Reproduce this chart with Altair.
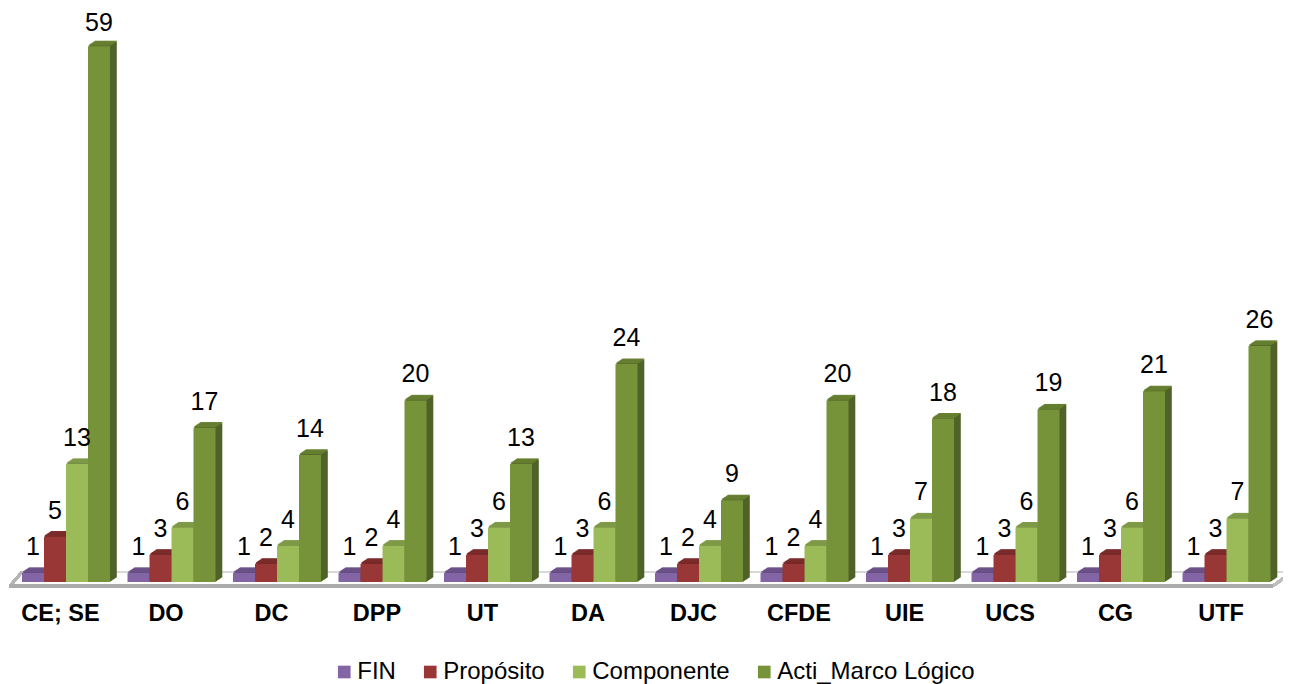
import altair as alt
import pandas as pd

categories = ["CE; SE", "DO", "DC", "DPP", "UT", "DA", "DJC", "CFDE", "UIE", "UCS", "CG", "UTF"]
series = ["FIN", "Propósito", "Componente", "Acti_Marco Lógico"]
fin = [1] * 12
proposito = [5, 3, 2, 2, 3, 3, 2, 2, 3, 3, 3, 3]
componente = [13, 6, 4, 4, 6, 6, 4, 4, 7, 6, 6, 7]
acti = [59, 17, 14, 20, 13, 24, 9, 20, 18, 19, 21, 26]
front_colors = ["#8364A5", "#983735", "#9BBB59", "#779339"]
side_colors = ["#5E4A79", "#6E2726", "#71893F", "#4F6228"]
top_colors = ["#6C5289", "#7B2C2B", "#7F9A48", "#667F31"]

W, H = 1266, 574
BAR = 22.0
STEP = 105.5
rows = []
for s_i, (name, vals) in enumerate(zip(series, [fin, proposito, componente, acti])):
    for g_i, (cat, v) in enumerate(zip(categories, vals)):
        x0 = g_i * STEP / BAR + 8.75 / BAR + s_i
        rows.append({"cat": cat, "series": name, "value": v, "side": side_colors[s_i],
                     "top": top_colors[s_i], "cap": v + 0.12, "zero": 0,
                     "label_y": v - 0.33 if v > 50 else v,
                     "x0": x0, "x1": x0 + 1, "xc": x0 + 0.5})
df = pd.DataFrame(rows)
cats_df = pd.DataFrame({"cat": categories,
                        "xc": [(i * STEP + 8.75 + 2 * BAR - 5.5) / BAR for i in range(len(categories))]})

x_scale = alt.Scale(domain=[0, W / BAR], nice=False, zero=False)
x_enc = alt.X("x0:Q", scale=x_scale, axis=None)
y_scale = alt.Scale(domain=[0, H / 9.08], nice=False)
y_enc = alt.Y("value:Q", scale=y_scale, axis=None)

base = alt.Chart(df)

# floor of the 3D plot
floor_back = base.mark_rule(color="#D9D9D9", strokeWidth=1.5).encode(
    x=alt.value(8.75), x2=alt.value(1274.75), y=alt.value(564), y2=alt.value(564))
floor_left = base.mark_rule(color="#B5B5B5", strokeWidth=2.5).encode(
    x=alt.value(-3.25), x2=alt.value(8.75), y=alt.value(578), y2=alt.value(564))
floor_right = base.mark_rule(color="#BDBDBD", strokeWidth=2.5).encode(
    x=alt.value(1259.75), x2=alt.value(1276), y=alt.value(578), y2=alt.value(566))
floor_front = base.mark_rule(color="#ABABAB", strokeWidth=3).encode(
    x=alt.value(-4.25), x2=alt.value(1259.75), y=alt.value(578), y2=alt.value(578))

steps = list(range(1, 9))


def shifted(k):
    return dict(xOffset=k * 0.85, x2Offset=k * 0.85, yOffset=-k * 0.56, y2Offset=-k * 0.56)


sides = [base.mark_rect(**shifted(k)).encode(
    x=x_enc, x2="x1:Q", y=y_enc, y2="zero:Q", color=alt.Color("side:N", scale=None)) for k in steps]
tops = [base.mark_rect(**shifted(k)).encode(
    x=x_enc, x2="x1:Q",
    y=alt.Y("cap:Q", scale=y_scale, axis=None), y2="value:Q",
    color=alt.Color("top:N", scale=None)) for k in steps]
fronts = base.mark_rect().encode(
    x=x_enc, x2="x1:Q", y=y_enc, y2="zero:Q",
    color=alt.Color("series:N", sort=series,
                    scale=alt.Scale(domain=series, range=front_colors),
                    legend=alt.Legend(title=None, orient="none", direction="horizontal",
                                      legendX=319, legendY=652, columns=4, gridAlign="none",
                                      symbolType="square", symbolSize=160, symbolStrokeWidth=0,
                                      symbolOpacity=1, labelFont="Liberation Sans", labelFontSize=24,
                                      labelColor="#000000", labelOffset=1, columnPadding=22,
                                      labelLimit=400, padding=0)))
labels = base.mark_text(font="Liberation Sans", fontSize=25, color="#000000", baseline="middle",
                        dy=-26).encode(x=alt.X("xc:Q", scale=x_scale, axis=None),
                                       y=alt.Y("label_y:Q", scale=y_scale, axis=None), text="value:Q")
cat_labels = alt.Chart(cats_df).mark_text(font="Liberation Sans", fontSize=23.5, fontWeight="bold",
                                          color="#000000", baseline="middle").encode(
    x=alt.X("xc:Q", scale=x_scale, axis=None), y=alt.value(606), text="cat:N")

chart = alt.layer(floor_back, floor_left, floor_right, floor_front, *sides, *tops, fronts, labels, cat_labels).properties(
    width=W, height=H,
    autosize=alt.AutoSizeParams(type="none"),
    padding={"left": 5.25, "top": 0, "right": 3.75, "bottom": 106},
).configure_view(stroke=None)

chart.save("out.html", embed_options={"renderer": "svg", "actions": False})
